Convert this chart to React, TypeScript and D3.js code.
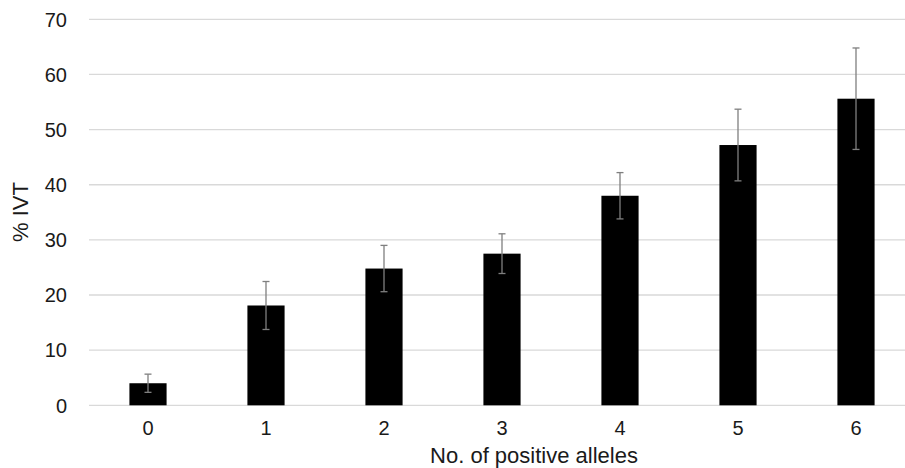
import React from "react";
import * as d3 from "d3";

const categories = ["0", "1", "2", "3", "4", "5", "6"];
const values = [4.0, 18.1, 24.8, 27.5, 38.0, 47.2, 55.6];
const errors = [1.65, 4.35, 4.2, 3.6, 4.2, 6.5, 9.2];
const yTicks = [0, 10, 20, 30, 40, 50, 60, 70];

const W = 905;
const H = 468;
const left = 89;
const right = 915;
const top = 19.3;
const bottom = 405.3;

export default function App() {
  const x = d3.scaleBand<string>().domain(categories).range([left, right]).paddingInner(0.685).paddingOuter(0.3425);
  const y = d3.scaleLinear().domain([0, 70]).range([bottom, top]);
  const bw = x.bandwidth();
  const font = "'Liberation Sans', Arial, sans-serif";
  return (
    <svg width={W} height={H} style={{ position: "absolute", left: 0, top: 0, background: "#fff" }} fontFamily={font}>
      {yTicks.map((t) => (
        <g key={t}>
          <line x1={left} x2={W} y1={y(t)} y2={y(t)} stroke="#d9d9d9" strokeWidth={1.3} />
          <text x={67} y={y(t)} dy="0.36em" textAnchor="end" fontSize={20} fill="#1a1a1a">{t}</text>
        </g>
      ))}
      {categories.map((c, i) => {
        const cx = (x(c) as number) + bw / 2;
        return (
          <g key={c}>
            <rect x={x(c)} y={y(values[i])} width={bw} height={y(0) - y(values[i])} fill="#000" />
            <line x1={cx} x2={cx} y1={y(values[i] + errors[i])} y2={y(values[i] - errors[i])} stroke="#7f7f7f" strokeWidth={1.3} />
            <line x1={cx - 3.5} x2={cx + 3.5} y1={y(values[i] + errors[i])} y2={y(values[i] + errors[i])} stroke="#7f7f7f" strokeWidth={1.3} />
            <line x1={cx - 3.5} x2={cx + 3.5} y1={y(values[i] - errors[i])} y2={y(values[i] - errors[i])} stroke="#7f7f7f" strokeWidth={1.3} />
            <text x={cx} y={434.5} textAnchor="middle" fontSize={20} fill="#1a1a1a">{c}</text>
          </g>
        );
      })}
      <text x={534} y={463} textAnchor="middle" fontSize={22} fill="#1a1a1a">No. of positive alleles</text>
      <text transform={`translate(28, 212) rotate(-90)`} textAnchor="middle" fontSize={22} fill="#1a1a1a">% IVT</text>
    </svg>
  );
}
